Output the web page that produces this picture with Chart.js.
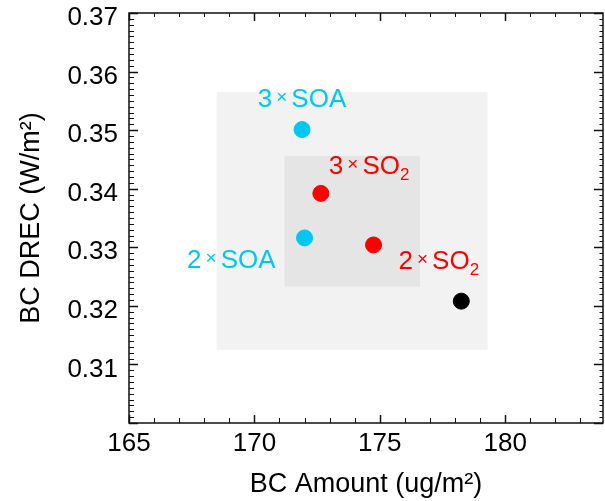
<!DOCTYPE html>
<html>
<head>
<meta charset="utf-8">
<script src="https://cdn.jsdelivr.net/npm/chart.js@4.4.0/dist/chart.umd.min.js"></script>
<style>
  html, body { margin: 0; background: #fff; overflow: hidden; }
</style>
</head>
<body>
<canvas id="grafica" width="612" height="501"></canvas>
<script>
// Experimentos SOA (cian)
const soaX = [171.9, 172.0];
const soaY = [0.3501, 0.3316];
const soaEtiquetas = ['3×SOA', '2×SOA'];
// Experimentos SO2 (rojo)
const so2X = [172.65, 174.75];
const so2Y = [0.3392, 0.3304];
const so2Etiquetas = ['3×SO2', '2×SO2'];
// Caso base (negro)
const baseX = [178.25];
const baseY = [0.3208];
// Cajas grises: exterior e interior
const cajaXMin = [168.5, 171.2];
const cajaXMax = [179.3, 176.6];
const cajaYMin = [0.3125, 0.3233];
const cajaYMax = [0.3565, 0.3456];
// Etiquetas de los ejes
const xTicks = [165, 170, 175, 180];
const yTicks = [0.31, 0.32, 0.33, 0.34, 0.35, 0.36, 0.37];

const FUENTE = '"Liberation Sans", Arial, Helvetica, sans-serif';

function toPuntos(xs, ys) {
  return xs.map((x, i) => ({ x: x, y: ys[i] }));
}

// Dibuja "3×SO2" con el × pequeño y el 2 como subíndice
function dibujarEtiqueta(ctx, texto, x, cy, align, color) {
  const partes = texto.split('×');
  const cabeza = partes[0];
  let cuerpo = partes[1];
  let sub = '';
  const m = cuerpo.match(/^(\D+)(\d)$/);
  if (m) { cuerpo = m[1]; sub = m[2]; }
  const grande = '26px ' + FUENTE;
  const chico = '19px ' + FUENTE;
  const gap = 4;
  ctx.save();
  ctx.fillStyle = color;
  ctx.textAlign = 'left';
  ctx.font = grande;
  const wCabeza = ctx.measureText(cabeza).width;
  const wCuerpo = ctx.measureText(cuerpo).width;
  ctx.font = chico;
  const wX = ctx.measureText('×').width;
  const wSub = sub ? ctx.measureText(sub).width : 0;
  const total = wCabeza + gap + wX + gap + wCuerpo + wSub;
  let x0 = x;
  if (align === 'right') x0 = x - total;
  if (align === 'center') x0 = x - total / 2;
  const base = cy + 9.3;
  ctx.textBaseline = 'alphabetic';
  ctx.font = grande;
  ctx.fillText(cabeza, x0, base);
  let cx = x0 + wCabeza + gap;
  ctx.font = chico;
  ctx.textBaseline = 'middle';
  ctx.fillText('×', cx, cy);
  cx += wX + gap;
  ctx.textBaseline = 'alphabetic';
  ctx.font = grande;
  ctx.fillText(cuerpo, cx, base);
  cx += wCuerpo;
  if (sub) {
    ctx.font = '17px ' + FUENTE;
    ctx.fillText(sub, cx, base + 6);
  }
  ctx.restore();
}

// Posición de cada etiqueta respecto de su punto (en píxeles)
const ubicacion = {
  '3×SOA': { dx: 0, dy: -32, align: 'center' },
  '2×SOA': { dx: -29, dy: 21, align: 'right' },
  '3×SO2': { dx: 8, dy: -29, align: 'left' },
  '2×SO2': { dx: 25, dy: 15, align: 'left' }
};

const pluginMarco = {
  id: 'marco',
  beforeDatasetsDraw(chart) {
    const { ctx, scales: { x, y } } = chart;
    const grises = ['#f2f2f2', '#e5e5e5'];
    ctx.save();
    cajaXMin.forEach((v, i) => {
      const x0 = x.getPixelForValue(v);
      const x1 = x.getPixelForValue(cajaXMax[i]);
      const y0 = y.getPixelForValue(cajaYMax[i]);
      const y1 = y.getPixelForValue(cajaYMin[i]);
      ctx.fillStyle = grises[i];
      ctx.fillRect(x0, y0, x1 - x0, y1 - y0);
    });
    ctx.restore();
  },
  afterDraw(chart) {
    const { ctx, chartArea: a, scales: { x, y } } = chart;
    ctx.save();
    ctx.strokeStyle = '#111';
    // ticks del eje x (abajo y arriba, hacia adentro)
    for (let i = 0; 165 + i <= x.max; i++) {
      const px = Math.round(x.getPixelForValue(165 + i)) + 0.5;
      const mayor = i % 5 === 0;
      ctx.lineWidth = mayor ? 1.5 : 1;
      ctx.beginPath();
      ctx.moveTo(px, a.bottom); ctx.lineTo(px, a.bottom - (mayor ? 8 : 5));
      ctx.moveTo(px, a.top); ctx.lineTo(px, a.top + (mayor ? 8 : 4));
      ctx.stroke();
    }
    // ticks del eje y (izquierda y derecha)
    for (let i = 0; i <= 70; i++) {
      const py = Math.round(y.getPixelForValue(0.30 + i * 0.001)) + 0.5;
      const mayor = i % 10 === 0;
      ctx.lineWidth = mayor ? 1.5 : 1;
      ctx.beginPath();
      ctx.moveTo(a.left, py); ctx.lineTo(a.left + (mayor ? 9 : 5), py);
      ctx.moveTo(a.right, py); ctx.lineTo(a.right - (mayor ? 9 : 3.5), py);
      ctx.stroke();
    }
    // bordes
    ctx.lineWidth = 1.5;
    ctx.strokeStyle = '#111';
    ctx.strokeRect(a.left, a.top, a.right - a.left, a.bottom - a.top);
    ctx.restore();

    // etiquetas de los puntos
    chart.data.datasets.forEach((ds, di) => {
      if (!ds.etiquetas) return;
      const meta = chart.getDatasetMeta(di);
      meta.data.forEach((el, i) => {
        const txt = ds.etiquetas[i];
        const u = ubicacion[txt];
        dibujarEtiqueta(ctx, txt, el.x + u.dx, el.y + u.dy, u.align, ds.backgroundColor);
      });
    });
  }
};

const ctx = document.getElementById('grafica').getContext('2d');
new Chart(ctx, {
  type: 'scatter',
  data: {
    datasets: [
      {
        label: 'SOA',
        data: toPuntos(soaX, soaY),
        etiquetas: soaEtiquetas,
        backgroundColor: '#00c8f0',
        borderColor: '#00c8f0',
        pointRadius: 8,
        borderWidth: 1
      },
      {
        label: 'SO2',
        data: toPuntos(so2X, so2Y),
        etiquetas: so2Etiquetas,
        backgroundColor: '#ff0000',
        borderColor: '#ff0000',
        pointRadius: 8,
        borderWidth: 1
      },
      {
        label: 'Base',
        data: toPuntos(baseX, baseY),
        backgroundColor: '#000000',
        borderColor: '#000000',
        pointRadius: 8,
        borderWidth: 1
      }
    ]
  },
  options: {
    responsive: false,
    animation: false,
    layout: { padding: { top: 13, right: 0, left: 0, bottom: 0 } },
    plugins: {
      legend: { display: false },
      tooltip: { enabled: false }
    },
    scales: {
      x: {
        type: 'linear',
        position: 'bottom',
        min: 165,
        max: 183.9,
        grid: { display: false, drawTicks: false },
        border: { display: false },
        afterBuildTicks: s => { s.ticks = xTicks.map(v => ({ value: v })); },
        afterFit: s => { s.height = 78; s.paddingLeft = 0; s.paddingRight = 0; },
        ticks: {
          color: '#000',
          font: { family: FUENTE, size: 26 },
          padding: 5,
          autoSkip: false,
          maxRotation: 0
        },
        title: {
          display: true,
          text: 'BC Amount (ug/m²)',
          color: '#000',
          font: { family: FUENTE, size: 27 },
          padding: { top: 0, bottom: 0 }
        }
      },
      y: {
        type: 'linear',
        min: 0.30,
        max: 0.37,
        grid: { display: false, drawTicks: false },
        border: { display: false },
        afterBuildTicks: s => { s.ticks = yTicks.map(v => ({ value: v })); },
        afterFit: s => { s.width = 129; s.paddingTop = 0; s.paddingBottom = 0; },
        ticks: {
          color: '#000',
          font: { family: FUENTE, size: 26 },
          padding: 11,
          labelOffset: 5,
          callback: v => v.toFixed(2)
        },
        title: {
          display: true,
          text: 'BC DREC (W/m²)',
          color: '#000',
          font: { family: FUENTE, size: 27 },
          padding: { top: 15, bottom: 0 }
        }
      }
    }
  },
  plugins: [pluginMarco]
});
</script>
</body>
</html>
